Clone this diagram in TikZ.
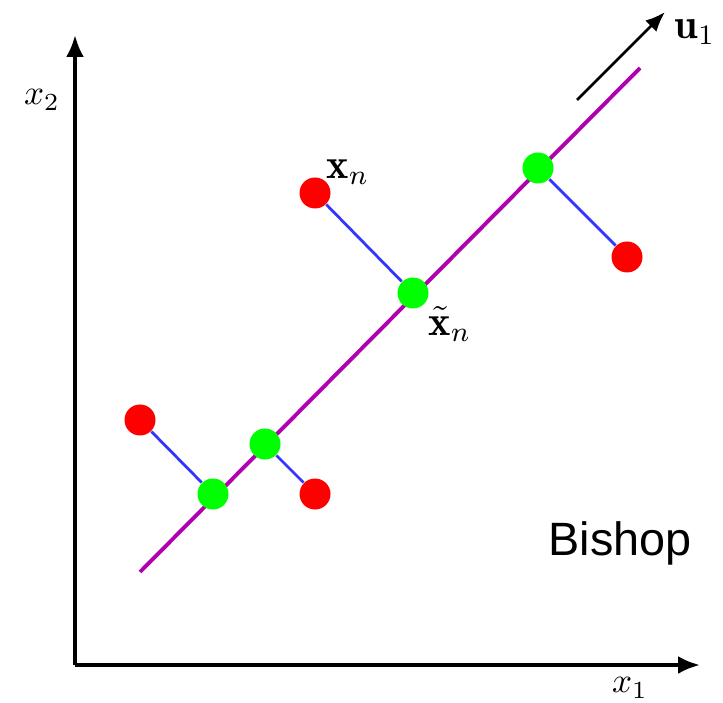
\documentclass[tikz,border=0pt]{standalone}
\usepackage{amsmath,amssymb,bm}
\usepackage{fontspec}
\newfontfamily\labelsans{Liberation Sans}
\usetikzlibrary{arrows.meta,calc,positioning}
\definecolor{DataRed}{HTML}{FF0000}
\definecolor{ProjGreen}{HTML}{00FF00}
\definecolor{Residual}{HTML}{3535FF}
\definecolor{Principal}{HTML}{B000B0}

\tikzset{
  datapt/.style={circle, fill=DataRed, inner sep=0pt, minimum size=3.1mm},
  projpt/.style={circle, fill=ProjGreen, inner sep=0pt, minimum size=3.1mm},
  residual/.style={Residual, line width=0.8pt},
  axisline/.style={line width=1.1pt, -{Latex[length=2.2mm, width=1.8mm]}},
}

\begin{document}
\begin{tikzpicture}[every node/.style={font=\large}]
  \useasboundingbox (0,0) rectangle (7.23,7.02);
  % axes
  \coordinate (origin) at (0.75,0.37);
  \coordinate (xend) at (7.00,0.37);
  \coordinate (yend) at (0.75,6.67);
  \draw[axisline] (origin) -- (xend);
  \draw[axisline] (origin) -- (yend);
  \node[font=\normalsize] (xlab) at (6.30,0.14) {$x_1$};
  \node[font=\normalsize] (ylab) at (0.42,6.02) {$x_2$};
  % principal direction
  \coordinate (ustart) at (5.77,6.02);
  \coordinate (utip) at (6.65,6.90);
  \draw[line width=0.8pt, -{Latex[length=2mm, width=1.6mm]}] (ustart) -- (utip);
  \node (ulab) at (6.95,6.70) {$\mathbf{u}_1$};
  \coordinate (lineA) at (1.40,1.30);
  \coordinate (lineB) at (6.40,6.34);
  \draw[Principal, line width=1.1pt] (lineA) -- (lineB);
  % data points and their projections
  \node[datapt] (red1) at (1.40,2.82) {};
  \node[projpt] (grn1) at (2.13,2.08) {};
  \node[projpt] (grn2) at (2.65,2.58) {};
  \node[datapt] (red2) at (3.15,2.08) {};
  \node[datapt] (red3) at (3.15,5.09) {};
  \node[projpt] (grn3) at (4.13,4.09) {};
  \node[projpt] (grn4) at (5.38,5.34) {};
  \node[datapt] (red4) at (6.27,4.45) {};
  \draw[residual] (red1) -- (grn1);
  \draw[residual] (grn2) -- (red2);
  \draw[residual] (red3) -- (grn3);
  \draw[residual] (grn4) -- (red4);
  \node (xnlab) at (3.48,5.30) {$\mathbf{x}_n$};
  \node (xtlab) at (4.50,3.78) {$\tilde{\mathbf{x}}_n$};
  \node[font=\labelsans\fontsize{13.3}{16}\selectfont] (author) at (6.20,1.59) {Bishop};
\end{tikzpicture}
\end{document}
